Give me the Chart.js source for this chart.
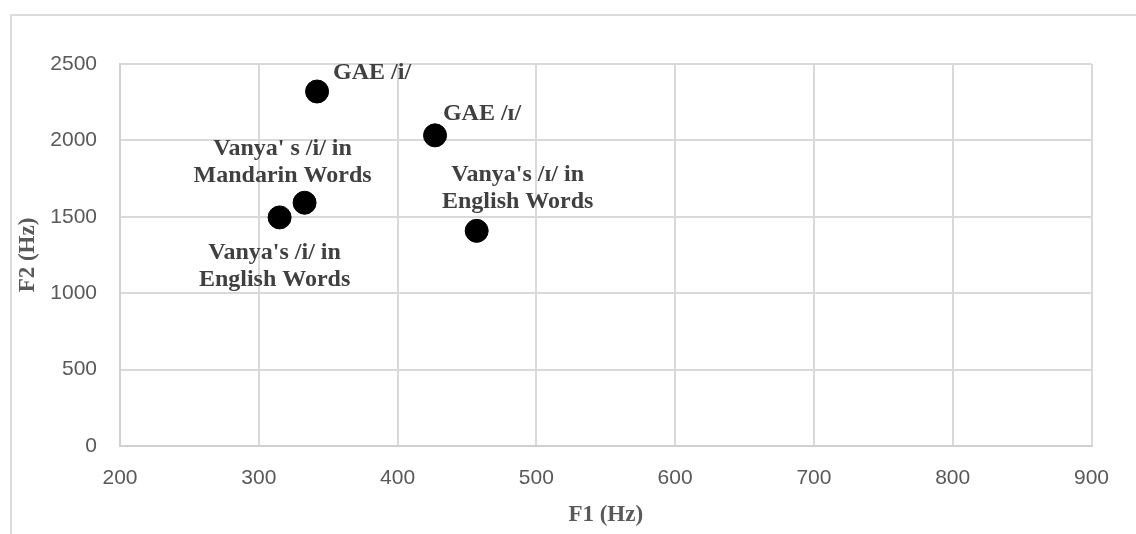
<!DOCTYPE html>
<html>
<head>
<meta charset="utf-8">
<script src="https://cdn.jsdelivr.net/npm/chart.js@4/dist/chart.umd.min.js"></script>
<style>
  html, body { margin: 0; padding: 0; background: #fff; overflow: hidden; }
  #wrap { position: relative; width: 1136px; height: 534px; }
  #frame { position: absolute; left: 10px; top: 14px; width: 1200px; height: 600px; border: 2px solid #dcdcdc; box-sizing: border-box; }
  canvas { position: absolute; left: 0; top: 0; }
</style>
</head>
<body>
<div id="wrap">
  <div id="frame"></div>
  <canvas id="chart" width="1136" height="534"></canvas>
</div>
<script>
// point names (shown next to each dot)
const pointLabels = [
    ['GAE /i/'],
    ['GAE /ɪ/'],
    ["Vanya' s /i/ in", 'Mandarin Words'],
    ["Vanya's /i/ in", 'English Words'],
    ["Vanya's /ɪ/ in", 'English Words']
];
// F1 and F2 values in Hz
const f1Values = [342, 427, 333, 315, 457];
const f2Values = [2320, 2033, 1592, 1496, 1408];

const xTicks = [200, 300, 400, 500, 600, 700, 800, 900];
const yTicks = [0, 500, 1000, 1500, 2000, 2500];

// where each label sits relative to its dot (px)
const labelOffsets = [[55, -19], [47, -22], [-22, -40], [-5, 49], [41, -43]];

const points = f1Values.map((x, i) => ({ x: x, y: f2Values[i] }));

// draw the label next to each point
const pointLabelPlugin = {
    id: 'pointLabels',
    afterDatasetsDraw(chart) {
        const ctx = chart.ctx;
        const meta = chart.getDatasetMeta(0);
        ctx.save();
        ctx.font = 'bold 24px "Liberation Serif", "Times New Roman", serif';
        ctx.fillStyle = '#404040';
        ctx.textAlign = 'center';
        ctx.textBaseline = 'middle';
        meta.data.forEach((el, i) => {
            const lines = pointLabels[i];
            const lh = 27;
            const cx = el.x + labelOffsets[i][0];
            const cy = el.y + labelOffsets[i][1] - (lines.length - 1) * lh / 2;
            lines.forEach((t, j) => ctx.fillText(t, cx, cy + j * lh));
        });
        ctx.restore();
    }
};

const tickFont = { family: '"Liberation Sans", Arial, sans-serif', size: 21 };
const titleFont = { family: '"Liberation Serif", "Times New Roman", serif', size: 23, weight: 'bold' };

new Chart(document.getElementById('chart'), {
    type: 'scatter',
    data: {
        datasets: [{
            data: points,
            backgroundColor: '#000',
            borderColor: '#000',
            pointRadius: 11.5,
            pointHoverRadius: 11.5
        }]
    },
    options: {
        responsive: false,
        animation: false,
        layout: { padding: { top: 64, right: 44.5, left: 0, bottom: 0 } },
        plugins: {
            legend: { display: false },
            tooltip: { enabled: false }
        },
        scales: {
            x: {
                type: 'linear',
                min: 200,
                max: 900,
                afterBuildTicks: (s) => { s.ticks = xTicks.map(v => ({ value: v })); },
                afterFit: (s) => { s.height = 88; },
                grid: { color: '#d9d9d9', lineWidth: 2, drawTicks: false },
                border: { color: '#d0d0d0', width: 2 },
                ticks: { color: '#595959', font: tickFont, padding: 20, maxRotation: 0, callback: (v) => String(v) },
                title: { display: true, text: 'F1 (Hz)', color: '#595959', font: titleFont, padding: { top: 0, bottom: 5 } }
            },
            y: {
                type: 'linear',
                min: 0,
                max: 2500,
                afterBuildTicks: (s) => { s.ticks = yTicks.map(v => ({ value: v })); },
                afterFit: (s) => { s.width = 120; },
                grid: { color: '#d9d9d9', lineWidth: 2, drawTicks: false },
                border: { color: '#d0d0d0', width: 2 },
                ticks: { color: '#595959', font: tickFont, padding: 23, callback: (v) => String(v) },
                title: { display: true, text: 'F2 (Hz)', color: '#595959', font: titleFont, padding: { top: 14, bottom: 0 } }
            }
        }
    },
    plugins: [pointLabelPlugin]
});
</script>
</body>
</html>
